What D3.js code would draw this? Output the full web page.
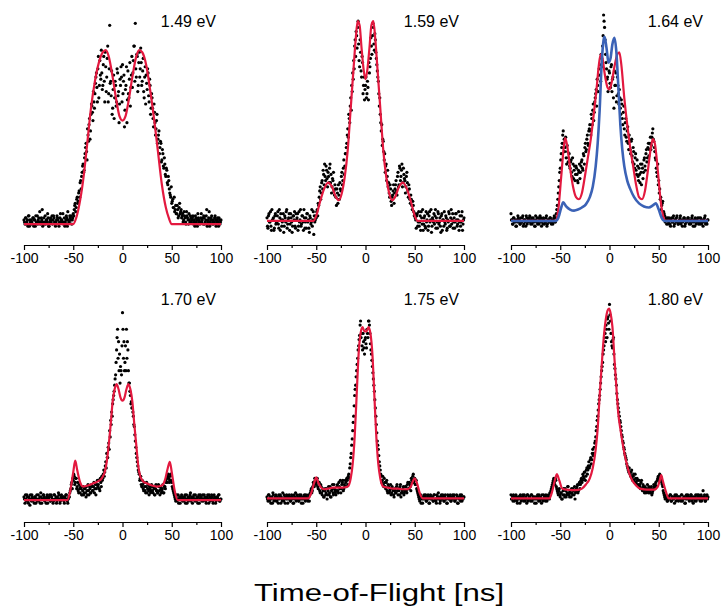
<!DOCTYPE html>
<html>
<head>
  <script src="https://cdnjs.cloudflare.com/ajax/libs/d3/7.8.5/d3.min.js"></script>
  <style>
    body { margin: 0; background: #fff; }
    svg { font-family: "Liberation Sans", Arial, sans-serif; }
    .axis path, .axis line { stroke: #000; stroke-width: 1.2; }
    .axis text { font-size: 14px; fill: #000; }
    .fit-red { fill: none; stroke: #e3193f; stroke-width: 2.2; }
    .fit-blue { fill: none; stroke: #3b62b6; stroke-width: 2.6; }
    .dot { fill: #000; }
  </style>
</head>
<body>
  <div id="chart"></div>

  <script>
    // panel labels (photon energy)
    const energies = ["1.49 eV", "1.59 eV", "1.64 eV", "1.70 eV", "1.75 eV", "1.80 eV"];
    const majorTicks = [-100, -50, 0, 50, 100];
    const minorTicks = [-75, -25, 25, 75];

    // measured counts, scan A: one sample per ns from -100 to 100
    const dots149 = [
      1, -1, 2, 0, -2, 3, 1, -1, 0, 2,
      -2, 1, 3, 0, -1, 2, 5, 0, 1, -2,
      2, 0, -1, 1, 4, -2, 0, 2, 1, -1,
      3, 0, -2, 1, 2, -1, 0, 4, 1, 0,
      -1, 2, 0, 3, -2, 1, 0, 2, 3, 1,
      4, 6, 9, 7, 12, 10, 15, 19, 16, 24,
      28, 25, 33, 38, 30, 42, 47, 40, 52, 56,
      49, 58, 62, 70, 65, 74, 60, 78, 69, 72,
      66, 80, 58, 75, 70, 85, 62, 95, 68, 73,
      55, 71, 60, 66, 58, 72, 63, 57, 66, 70,
      76, 68, 46, 64, 75, 59, 62, 69, 56, 71,
      65, 78, 85, 96, 70, 80, 66, 82, 74, 77,
      68, 79, 60, 75, 71, 64, 72, 58, 66, 55,
      60, 50, 57, 48, 45, 52, 40, 44, 36, 38,
      30, 33, 26, 28, 22, 25, 18, 20, 14, 12,
      9, 11, 7, 5, 8, 4, 6, 3, 9, 5,
      2, 4, 1, 3, 0, 5, 2, -1, 1, 3,
      0, 2, -1, 1, 3, 0, -2, 2, 1, 0,
      4, 1, -1, 2, 0, 3, -2, 1, 5, 0,
      2, -1, 1, 0, 3, -2, 1, 0, 2, -1, 1
    ];
    const dots159 = [
      2, -3, 4, 0, -2, 6, 1, -4, 3, -1,
      0, 5, -3, 2, 4, -2, 1, -5, 3, 0,
      6, -1, 2, -4, 4, 0, -2, 3, 5, -3,
      1, 4, -2, 0, 6, -1, 3, -4, 2, 0,
      -3, 4, 1, -5, 2, 0, -2, 5, 3, 1,
      2, 6, 9, 12, 17, 14, 20, 25, 18, 22,
      27, 21, 24, 19, 28, 23, 17, 20, 15, 18,
      12, 16, 9, 13, 19, 15, 24, 20, 30, 27,
      33, 38, 45, 52, 48, 60, 66, 72, 78, 85,
      80, 90, 94, 86, 75, 82, 70, 77, 66, 59,
      66, 60, 68, 59, 72, 79, 85, 90, 94, 83,
      88, 79, 73, 68, 56, 52, 44, 37, 39, 30,
      24, 28, 22, 17, 14, 18, 10, 12, 15, 9,
      16, 20, 13, 24, 18, 26, 22, 28, 19, 23,
      20, 17, 24, 15, 18, 11, 13, 8, 10, 5,
      4, 1, 3, -2, 5, 0, -4, 2, 6, -1,
      3, -3, 0, 4, -2, 5, 1, -5, 2, 0,
      -1, 6, 2, -3, 4, 0, -2, 3, -4, 1,
      5, -1, 2, -3, 0, 4, -2, 6, 1, -3,
      2, 0, 4, -2, 1, -4, 3, 0, 5, -1, 2
    ];
    const dots164 = [
      4, 1, -1, 2, 0, -2, 1, 3, 0, -1,
      2, 0, 3, -1, 1, -2, 2, 0, 1, 3,
      -1, 2, 0, 1, -2, 3, 0, -1, 2, 1,
      0, -2, 1, 2, -1, 0, 3, -1, 1, 0,
      2, -1, 0, 1, 3, 0, 4, 8, 14, 20,
      26, 33, 38, 44, 40, 36, 31, 37, 29, 33,
      26, 30, 22, 28, 25, 20, 27, 23, 19, 24,
      21, 27, 30, 25, 32, 36, 34, 40, 38, 44,
      47, 42, 50, 54, 49, 58, 62, 56, 66, 71,
      76, 68, 79, 85, 100, 94, 81, 74, 70, 78,
      72, 65, 76, 69, 60, 73, 66, 58, 70, 62,
      64, 55, 59, 50, 53, 45, 48, 41, 44, 38,
      42, 35, 39, 32, 36, 28, 31, 25, 30, 22,
      26, 19, 24, 28, 21, 30, 27, 33, 29, 36,
      32, 38, 35, 41, 45, 39, 34, 30, 24, 28,
      20, 16, 12, 8, 10, 5, 3, 1, -1, 2,
      0, 1, -2, 2, 0, 3, -1, 1, 2, 0,
      -1, 1, 3, 0, -2, 1, 2, -1, 0, 1,
      2, -1, 0, 1, 3, -2, 0, 2, -1, 1,
      0, 2, -1, 1, 0, -2, 1, 3, 0, -1, 1
    ];
    const dots170 = [
      1, -2, 0, 2, -1, 1, -3, 0, 2, -1,
      0, 1, -2, 2, 0, -1, 1, 3, -2, 0,
      2, -1, 0, 1, -2, 0, 2, -1, 1, 0,
      -1, 2, 0, -2, 1, 3, 0, -1, 2, 0,
      1, -2, 0, 2, -1, 0, 1, 4, 7, 5,
      9, 11, 8, 10, 6, 4, 7, 3, 5, 2,
      6, 3, 5, 1, 4, 7, 2, 5, 3, 6,
      4, 8, 5, 2, 7, 6, 9, 4, 8, 11,
      10, 14, 13, 18, 22, 20, 27, 33, 38, 42,
      46, 50, 55, 60, 72, 82, 76, 70, 64, 60,
      90, 68, 62, 74, 82, 76, 62, 56, 50, 47,
      44, 40, 35, 28, 22, 18, 14, 12, 10, 7,
      9, 5, 8, 4, 6, 3, 7, 2, 5, 4,
      6, 3, 5, 2, 7, 4, 3, 6, 2, 5,
      4, 7, 3, 6, 9, 8, 11, 10, 9, 12,
      8, 5, 3, 1, -1, 2, 0, -2, 1, 0,
      2, -1, 0, 1, -2, 2, 0, -1, 1, 3,
      0, -2, 1, 0, 2, -1, 0, 1, -2, 2,
      1, 0, -1, 2, 0, -2, 1, 0, 2, -1,
      0, 1, -2, 2, 0, -1, 1, 0, 2, -1, 0
    ];
    const dots175 = [
      1, -1, 2, 0, -2, 1, 3, -1, 0, 2,
      -1, 0, 2, 1, -2, 0, 3, -1, 1, 0,
      2, -2, 0, 1, -1, 2, 0, -2, 1, 3,
      0, 1, -1, 2, 0, -2, 1, 0, 2, -1,
      1, 0, 2, -1, 3, 5, 4, 8, 6, 9,
      7, 10, 5, 8, 3, 6, 2, 4, 1, 5,
      3, 0, 4, 2, 6, 1, 5, 3, 7, 4,
      2, 6, 4, 8, 5, 3, 7, 9, 5, 6,
      8, 10, 7, 12, 15, 20, 26, 33, 40, 50,
      55, 62, 68, 74, 79, 86, 80, 72, 76, 70,
      78, 73, 80, 86, 84, 75, 70, 64, 58, 52,
      44, 36, 28, 24, 18, 14, 11, 9, 7, 10,
      6, 8, 4, 7, 3, 5, 2, 6, 4, 1,
      5, 3, 7, 2, 4, 6, 1, 3, 5, 2,
      4, 6, 3, 8, 5, 7, 4, 9, 11, 8,
      10, 7, 5, 3, 1, -1, 2, 0, -2, 1,
      0, 2, -1, 1, 0, -2, 2, 0, 1, -1,
      2, 0, -2, 1, 3, 0, -1, 2, 0, 1,
      -1, 2, 0, -2, 1, 0, 2, -1, 1, 0,
      2, -1, 0, 1, -2, 0, 2, 1, -1, 0, 1
    ];
    const dots180 = [
      2, 0, -1, 1, 0, 2, -1, 0, 1, -2,
      1, 0, 2, -1, 0, 1, -2, 2, 0, 1,
      -1, 2, 0, 1, -2, 0, 1, 2, -1, 0,
      1, -2, 0, 2, 1, -1, 0, 1, 2, 0,
      3, 5, 7, 9, 8, 10, 6, 4, 2, 5,
      1, 3, 0, 4, 2, 5, 1, 3, 6, 2,
      4, 1, 3, 5, 2, 0, 4, 6, 3, 7,
      5, 9, 8, 12, 10, 13, 11, 15, 14, 18,
      16, 20, 19, 24, 22, 27, 30, 35, 40, 46,
      50, 56, 62, 66, 72, 78, 76, 82, 87, 85,
      94, 86, 76, 73, 78, 65, 60, 55, 48, 44,
      40, 37, 33, 30, 27, 24, 21, 19, 16, 14,
      15, 12, 13, 10, 11, 9, 12, 8, 10, 7,
      9, 6, 8, 5, 7, 4, 6, 3, 5, 4,
      6, 3, 5, 2, 4, 7, 5, 8, 6, 10,
      9, 12, 11, 8, 6, 3, 1, 2, 0, -1,
      1, 0, 2, -1, 1, 0, -2, 1, 2, 0,
      -1, 1, 0, 2, -1, 0, 1, -2, 2, 0,
      1, -1, 0, 2, 1, -2, 0, 1, -1, 2,
      0, 1, -1, 2, 0, 4, 1, -1, 0, 2, 1
    ];

    // scan B: samples at the half-ns points from -99.5 to 99.5
    const dots149b = [
      0, 2, -1, 1, 3, -2, 0, 1, -1, 2,
      1, -2, 0, 3, 1, 0, -1, 2, 6, 0,
      -1, 3, 1, 0, 2, -2, 1, 0, 3, 1,
      2, -1, 0, 3, 1, -2, 2, 0, 1, 4,
      0, -2, 1, 2, 5, 0, 3, 1, -1, 2,
      3, 8, 5, 11, 9, 14, 12, 20, 22, 27,
      24, 31, 36, 34, 45, 39, 50, 44, 57, 53,
      63, 55, 67, 72, 58, 80, 66, 71, 83, 64,
      76, 68, 82, 63, 79, 58, 74, 67, 61, 52,
      64, 50, 68, 56, 74, 61, 48, 69, 75, 58,
      62, 71, 54, 66, 48, 73, 60, 77, 65, 80,
      72, 85, 68, 74, 81, 63, 77, 70, 84, 66,
      73, 63, 70, 57, 67, 74, 61, 69, 52, 62,
      55, 46, 53, 42, 49, 38, 42, 33, 39, 29,
      35, 27, 31, 23, 26, 19, 22, 16, 13, 17,
      10, 7, 12, 6, 4, 8, 2, 7, 4, 6,
      3, 0, 5, 2, -1, 3, 1, 4, 0, 2,
      1, 3, 0, -2, 2, 1, 4, 0, -1, 2,
      0, 2, 3, -1, 1, 6, 0, 2, -2, 1,
      3, 0, -1, 2, 1, 0, 2, -2, 1, 0
    ];
    const dots159b = [
      -2, 3, 0, 5, -4, 1, 2, -3, 4, 0,
      3, -1, 6, -4, 1, 0, 4, -2, 2, 5,
      -3, 1, 4, -1, 2, -5, 3, 1, -2, 4,
      2, -4, 5, 1, -2, 3, 0, 6, -3, 2,
      4, 0, -3, 3, -1, 6, 1, -6, 0, 3,
      5, 3, 8, 15, 11, 19, 16, 23, 28, 20,
      25, 17, 22, 26, 19, 14, 21, 24, 13, 16,
      8, 14, 18, 11, 16, 22, 18, 26, 23, 33,
      36, 42, 41, 50, 56, 54, 63, 69, 74, 88,
      92, 84, 97, 78, 88, 73, 80, 62, 70, 64,
      70, 62, 65, 77, 75, 89, 81, 96, 86, 91,
      82, 76, 70, 62, 60, 48, 47, 40, 34, 33,
      27, 20, 25, 19, 12, 16, 8, 13, 18, 14,
      18, 15, 22, 17, 27, 20, 25, 17, 26, 21,
      14, 22, 19, 12, 16, 9, 11, 6, 8, 3,
      2, -3, 4, 0, -2, 3, 5, -1, -4, 2,
      -2, 5, 1, -4, 3, 0, 6, -2, 1, 4,
      3, -3, 0, 5, -1, 2, -5, 4, 1, -2,
      0, 3, -4, 1, 5, -2, 2, -1, 4, 0,
      -3, 4, 1, -1, 5, 0, -2, 3, -4, 1
    ];
    const dots164b = [
      1, -1, 2, 0, 1, -2, 0, 2, 1, -1,
      0, 2, -2, 1, 0, 3, -1, 1, 2, 0,
      1, -1, 2, 0, -2, 1, 2, 0, -1, 3,
      2, 0, -1, 1, 0, 2, -2, 1, 0, 2,
      0, 1, -1, 2, 0, 2, 6, 11, 17, 24,
      30, 36, 42, 38, 34, 41, 28, 34, 31, 27,
      29, 24, 31, 21, 27, 23, 26, 20, 25, 28,
      24, 29, 26, 33, 28, 38, 35, 42, 37, 45,
      44, 52, 47, 57, 53, 60, 64, 69, 63, 74,
      71, 81, 75, 90, 97, 88, 77, 69, 63, 73,
      67, 75, 63, 70, 55, 66, 72, 61, 66, 57,
      60, 52, 57, 47, 56, 42, 50, 39, 46, 35,
      39, 33, 40, 29, 34, 26, 33, 23, 27, 20,
      23, 28, 18, 26, 24, 31, 25, 35, 31, 38,
      35, 41, 37, 43, 40, 36, 31, 26, 22, 18,
      14, 11, 6, 9, 3, 4, 0, 2, 1, -1,
      2, -1, 1, 0, 2, -2, 1, 0, 3, -1,
      0, 2, -1, 1, 0, 2, -2, 1, 0, 2,
      1, 0, -1, 2, 0, 1, -2, 1, 0, 2,
      -1, 0, 2, -1, 1, 0, 2, -1, 0, 1
    ];
    const dots170b = [
      0, 2, -1, 1, -2, 0, 2, -1, 1, 0,
      -2, 1, 0, -1, 2, 0, -2, 1, 0, 2,
      1, 0, -2, 2, 0, 1, -1, 2, 0, -2,
      2, 0, 1, -1, 0, 2, -2, 1, 0, 1,
      -1, 1, 2, 0, -2, 1, 3, 5, 8, 10,
      12, 7, 10, 5, 8, 3, 5, 6, 2, 4,
      2, 5, 3, 6, 2, 4, 6, 3, 7, 4,
      6, 3, 7, 5, 9, 7, 5, 10, 6, 9,
      12, 11, 16, 15, 20, 25, 24, 30, 36, 40,
      48, 52, 58, 66, 78, 68, 62, 56, 62, 74,
      82, 76, 66, 62, 68, 72, 56, 52, 46, 44,
      42, 36, 31, 25, 20, 16, 13, 9, 11, 6,
      7, 4, 6, 3, 8, 5, 4, 6, 3, 7,
      4, 6, 2, 5, 4, 3, 7, 4, 6, 3,
      5, 3, 6, 5, 8, 10, 12, 8, 11, 9,
      6, 4, 2, 0, 1, -1, 2, 0, -2, 1,
      0, 1, -1, 2, 0, -2, 1, 0, 2, -1,
      1, 0, 2, -1, 0, 1, -2, 2, 0, 1,
      -1, 2, 0, 1, -1, 0, 2, -2, 1, 0,
      2, -1, 0, 1, -2, 0, 1, 2, -1, 0
    ];
    const dots175b = [
      0, 2, -1, 1, 0, -2, 2, 0, 1, -1,
      1, -2, 0, 2, 1, -1, 0, 2, -2, 1,
      0, 1, 2, -1, 0, 1, -2, 2, 0, -1,
      2, 0, -1, 1, 2, 0, -2, 1, 0, 2,
      0, -1, 1, 2, 4, 3, 6, 7, 10, 8,
      9, 6, 8, 4, 7, 3, 5, 1, 4, 2,
      5, 2, 6, 3, 1, 4, 7, 2, 5, 3,
      4, 7, 3, 6, 9, 5, 8, 4, 7, 9,
      6, 9, 11, 10, 17, 22, 29, 37, 45, 53,
      59, 65, 72, 77, 84, 78, 74, 80, 73, 77,
      75, 82, 78, 86, 80, 72, 67, 61, 55, 48,
      40, 32, 26, 21, 16, 12, 8, 11, 6, 8,
      5, 9, 3, 6, 4, 7, 3, 5, 2, 4,
      3, 6, 4, 5, 2, 7, 3, 4, 6, 3,
      6, 4, 7, 5, 8, 6, 10, 8, 12, 9,
      7, 9, 4, 2, 0, 1, -2, 1, 0, 2,
      1, -1, 0, 2, -2, 1, 0, 1, -1, 2,
      0, -1, 2, 0, 1, -2, 1, 0, 2, -1,
      1, 0, -2, 2, 0, 1, -1, 0, 2, 1,
      -1, 0, 2, -2, 1, 0, -1, 2, 0, 1
    ];
    const dots180b = [
      0, 1, 2, -1, 0, 1, -2, 1, 0, 2,
      -1, 0, 1, 2, -1, 0, 2, -1, 1, 0,
      2, -1, 1, 0, 1, -2, 0, 1, 2, -1,
      0, 2, -1, 0, 1, 2, -1, 0, 1, 3,
      4, 6, 8, 10, 7, 9, 5, 3, 4, 2,
      3, 0, 2, 5, 1, 4, 2, 6, 3, 1,
      3, 5, 2, 4, 6, 3, 5, 7, 4, 8,
      7, 10, 9, 11, 13, 9, 14, 12, 16, 15,
      19, 17, 22, 21, 25, 28, 33, 38, 43, 48,
      53, 59, 64, 70, 74, 80, 84, 78, 88, 82,
      89, 80, 74, 77, 70, 63, 58, 51, 46, 42,
      38, 35, 31, 28, 25, 22, 20, 17, 15, 13,
      13, 11, 14, 9, 12, 8, 10, 7, 9, 6,
      7, 5, 9, 4, 6, 3, 5, 4, 7, 3,
      5, 4, 6, 3, 5, 6, 7, 6, 9, 11,
      10, 11, 9, 7, 4, 2, 0, 1, -1, 1,
      0, 2, -1, 1, 0, 1, 2, -1, 0, 1,
      1, 0, -1, 2, 0, 1, -2, 0, 1, 2,
      0, 1, 2, -1, 0, 1, -1, 2, 0, 1,
      2, 0, 1, -1, 1, 0, 2, -1, 1, 0
    ];

    // fitted curves, [time ns, counts]
    const fit149 = [[-100,-1],[-50,-1],[-47,2],[-44,8],[-40,20],[-36,37],[-32,55],[-28,68],[-24,77],[-20,82],[-17,83],[-14,80],[-10,70],[-6,58],[-3,51],[0,49],[3,51],[6,58],[10,70],[14,80],[17,83],[20,82],[24,76],[28,64],[32,50],[36,34],[40,18],[44,7],[47,2],[50,-1],[100,-1]];
    const fit159 = [[-100,0.5],[-53,0.5],[-50,3],[-46,10],[-42,16],[-38,19],[-34,17],[-30,12],[-27,10.5],[-24,14],[-21,22],[-18,35],[-15,55],[-12,75],[-10,88],[-8,97],[-6,95],[-4,84],[-2,74],[0,69],[2,74],[4,84],[6,95],[8,97],[10,88],[12,75],[15,55],[18,35],[21,22],[24,14],[27,10.5],[30,12],[34,17],[38,19],[42,16],[46,10],[50,3],[53,0.5],[100,0.5]];
    const fit164 = [[-100,0.5],[-55,0.5],[-52,6],[-49,22],[-46,38],[-45,40.5],[-43,37],[-40,26],[-37,17],[-34,12],[-31,11],[-28,14],[-25,22],[-22,31],[-19,40],[-16,52],[-13,65],[-11,75],[-9,81],[-7,79],[-5,72],[-2,65],[0,64],[2,67],[5,75],[8,81],[10,82],[12,76],[15,60],[18,47],[21,36],[24,27],[27,18],[30,12],[33,11],[36,15],[39,25],[42,36],[44,40],[46,38],[49,25],[52,10],[55,2],[57,0.5],[100,0.5]];
    const sim164 = [[-100,0.5],[-55,0.5],[-52,2],[-49,7],[-47,9.5],[-44,7.5],[-40,6],[-36,5.5],[-32,6],[-28,7],[-24,8.5],[-20,12],[-17,17],[-14,27],[-12,38],[-10,54],[-8,76],[-6,88],[-5,89.5],[-3,84],[-1,77],[1,79],[3,86],[5,89],[7,82],[9,65],[11,47],[13,35],[15,27],[18,20],[21,16],[25,12],[30,9],[35,7.5],[40,7],[44,8],[47,9],[50,6],[53,2],[56,0.5],[100,0.5]];
    const fit170 = [[-100,-0.5],[-56,-0.5],[-53,4],[-50,13],[-48,18.5],[-46,14],[-43,8],[-40,6],[-35,6.5],[-30,7.5],[-25,8.5],[-21,10],[-18,13],[-16,18],[-14,26],[-12,36],[-10,47],[-8,53],[-6,55.5],[-4,53],[-2,49],[0,47.5],[2,49],[4,53],[6,55.5],[8,53],[10,47],[12,36],[14,26],[16,16],[18,11],[21,8.5],[25,7.5],[30,6.5],[35,6],[40,6.5],[43,9],[46,15],[48,18],[50,13],[53,4],[56,-0.5],[100,-0.5]];
    const fit175 = [[-100,0.3],[-58,0.3],[-55,3],[-52,8],[-50,10.5],[-48,8],[-45,5.5],[-42,4.7],[-38,5],[-33,5.5],[-28,5.5],[-23,5.5],[-18,6],[-15,10],[-13,17],[-11,30],[-9,50],[-7,70],[-5,80],[-3,83],[-1,81],[1,81],[3,83],[5,80],[7,70],[9,50],[11,30],[13,17],[15,10],[18,6],[23,5.5],[28,5],[33,5],[38,4.7],[43,4.8],[46,6],[48,8.5],[50,10],[52,8],[55,3],[58,0.3],[100,0.3]];
    const fit180 = [[-100,0.3],[-61,0.3],[-58,4],[-55,10],[-53.5,12],[-51,9],[-48,5],[-44,4.5],[-38,4.3],[-32,4.4],[-28,5],[-24,7],[-20,10],[-17,15],[-14,24],[-12,34],[-10,50],[-8,64],[-6,77],[-4,86],[-2,91],[-0.5,92],[1,90],[3,83],[5,68],[7,54],[9,41],[11,34],[14,25],[17,18],[20,12.5],[23,9],[27,6.5],[31,5],[38,4.5],[45,4.5],[49,6],[51,9],[52.5,11.5],[54,9],[57,4],[60,0.3],[100,0.3]];

    const panels = [
      {label: energies[0], dots: dots149, dotsB: dots149b, fits: [fit149], x0: 24,  row: 0},
      {label: energies[1], dots: dots159, dotsB: dots159b, fits: [fit159], x0: 267, row: 0},
      {label: energies[2], dots: dots164, dotsB: dots164b, fits: [fit164, sim164], x0: 511, row: 0},
      {label: energies[3], dots: dots170, dotsB: dots170b, fits: [fit170], x0: 24,  row: 1},
      {label: energies[4], dots: dots175, dotsB: dots175b, fits: [fit175], x0: 267, row: 1},
      {label: energies[5], dots: dots180, dotsB: dots180b, fits: [fit180], x0: 511, row: 1}
    ];

    const W = 724, H = 612;
    const panelW = 197;
    const rows = [
      {base: 222, top: 15, axisY: 245, labelY: 27},
      {base: 499, top: 292, axisY: 522, labelY: 305}
    ];

    const svg = d3.select("#chart")
      .append("svg")
        .attr("width", W)
        .attr("height", H);

    panels.forEach(p => {
      const r = rows[p.row];
      const x = d3.scaleLinear().domain([-100, 100]).range([p.x0, p.x0 + panelW]);
      const y = d3.scaleLinear().domain([0, 100]).range([r.base, r.top]);
      const g = svg.append("g");

      const pts = p.dots.map((v, i) => [i - 100, v])
        .concat(p.dotsB.map((v, i) => [i - 99.5, v]));

      // scattered data
      g.selectAll(".dot")
        .data(pts)
        .join("circle")
        .attr("class", "dot")
        .attr("cx", d => x(d[0]))
        .attr("cy", d => y(d[1]))
        .attr("r", 1.6);

      // fit lines (red), blue simulation only on 1.64 eV
      const line = d3.line()
        .x(d => x(d[0]))
        .y(d => y(d[1]))
        .curve(d3.curveMonotoneX);

      p.fits.forEach((f, i) => {
        g.append("path")
          .datum(f)
          .attr("class", i === 0 ? "fit-red" : "fit-blue")
          .attr("d", line);
      });

      // axes
      g.append("g")
        .attr("class", "axis")
        .attr("transform", `translate(0,${r.axisY})`)
        .call(d3.axisBottom(x).tickValues(majorTicks).tickSize(5).tickSizeOuter(0).tickPadding(3)
          .tickFormat(d => d < 0 ? "-" + Math.abs(d) : d))
        .call(a => a.selectAll("text").attr("font-family", null).attr("font-size", null));

      g.append("g")
        .attr("class", "axis")
        .attr("transform", `translate(0,${r.axisY})`)
        .call(d3.axisBottom(x).tickValues(minorTicks).tickSize(3).tickSizeOuter(0).tickFormat(""))
        .call(a => a.select(".domain").remove());

      g.append("text")
        .attr("x", p.x0 + panelW - 5)
        .attr("y", r.labelY)
        .attr("text-anchor", "end")
        .style("font-size", "16px")
        .text(p.label);
    });

    // axis title, horizontally stretched as in the original figure
    svg.append("text")
      .attr("transform", "translate(379,601) scale(1.3,1)")
      .attr("text-anchor", "middle")
      .style("font-size", "24px")
      .text("Time-of-Flight [ns]");
  </script>
</body>
</html>
